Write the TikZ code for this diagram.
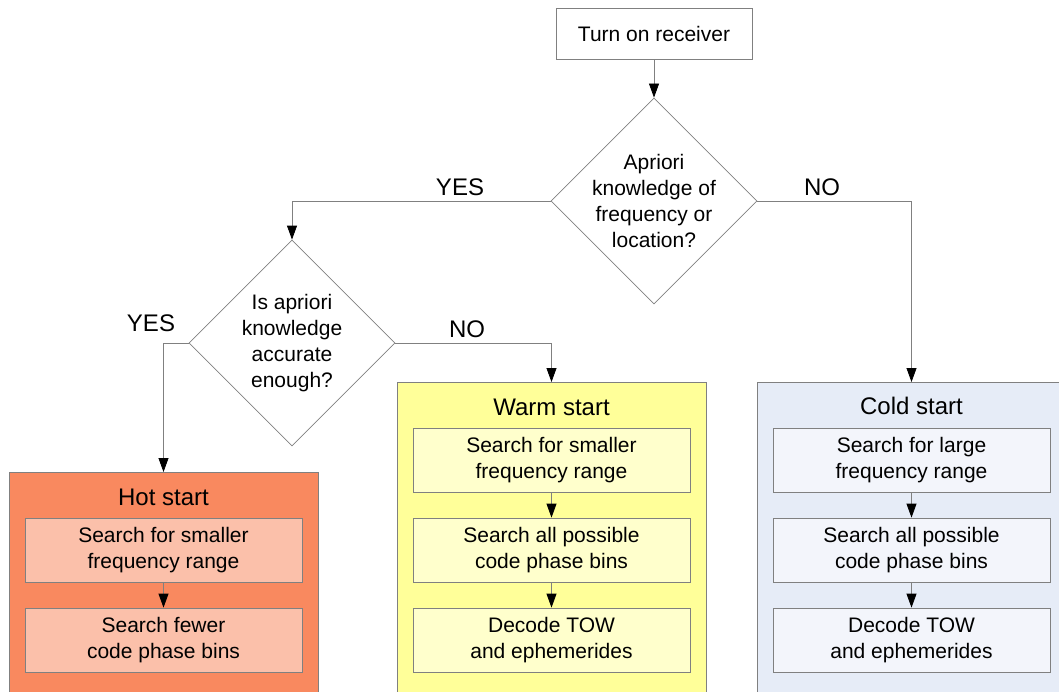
\documentclass[tikz,border=0pt]{standalone}
\usepackage{fontspec}
\setmainfont{Liberation Sans}
\usetikzlibrary{shapes.geometric,arrows.meta}

\definecolor{linegray}{RGB}{128,128,128}
\definecolor{hotout}{RGB}{249,137,95}
\definecolor{hotin}{RGB}{251,192,170}
\definecolor{warmout}{RGB}{255,255,153}
\definecolor{warmin}{RGB}{255,255,204}
\definecolor{coldout}{RGB}{230,236,247}
\definecolor{coldin}{RGB}{243,245,251}

\begin{document}
\begin{tikzpicture}[x=1pt, y=-1pt,
    every node/.append style={font=\fontsize{21}{26}\selectfont, align=center},
    box/.style={draw=linegray, line width=0.8pt, minimum width=277pt, minimum height=64pt, inner sep=0pt},
    group/.style={draw=linegray, line width=0.8pt, minimum width=309pt, anchor=north, inner sep=0pt},
    decision/.style={draw=linegray, line width=0.8pt, diamond, minimum width=206pt, minimum height=206pt, inner sep=0pt},
    title/.style={font=\fontsize{24}{28}\selectfont},
    flow/.style={draw=linegray, line width=0.8pt, -{Triangle[length=14pt, width=10pt, color=black]}}
]

    \def\colh{163.5}        % Column of the hot start
    \def\colw{551.5}        % Column of the warm start
    \def\colc{911.5}        % Column of the cold start (cut at the right edge)
    \def\rowa{460}
    \def\rowb{550}
    \def\rowc{640}

    \useasboundingbox (0,0) rectangle (1059,691);
    \clip (0,0) rectangle (1059,691);

    % Outer boxes of the three start modes, running past the bottom edge
    \node[group, fill=hotout, minimum height=240pt] (hot) at (\colh,472) {};
    \node[group, fill=warmout, minimum height=330pt] (warm) at (\colw,382) {};
    \node[group, fill=coldout, minimum height=330pt] (cold) at (\colc,382) {};

    \node[title] (hottitle) at (\colh,497) {Hot start};
    \node[title] (warmtitle) at (\colw,407) {Warm start};
    \node[title] (coldtitle) at (\colc,406) {Cold start};

    % Steps inside each box
    \node[box, fill=hotin] (hot1) at (\colh,\rowb) {Search for smaller\\frequency range};
    \node[box, fill=hotin] (hot2) at (\colh,\rowc) {Search fewer\\code phase bins};

    \node[box, fill=warmin] (warm1) at (\colw,\rowa) {Search for smaller\\frequency range};
    \node[box, fill=warmin] (warm2) at (\colw,\rowb) {Search all possible\\code phase bins};
    \node[box, fill=warmin] (warm3) at (\colw,\rowc) {Decode TOW\\and ephemerides};

    \node[box, fill=coldin] (cold1) at (\colc,\rowa) {Search for large\\frequency range};
    \node[box, fill=coldin] (cold2) at (\colc,\rowb) {Search all possible\\code phase bins};
    \node[box, fill=coldin] (cold3) at (\colc,\rowc) {Decode TOW\\and ephemerides};

    % Start and the two questions
    \node[draw=linegray, line width=0.8pt, fill=white, minimum width=196pt, minimum height=51pt] (start) at (654,33.5) {Turn on receiver};
    \node[decision] (known) at (654,201) {};
    \node (knowntext) at (known) {Apriori\\knowledge of\\frequency or\\location?};
    \node[decision] (accurate) at (292,343) {};
    \node (accuratetext) at (accurate) {Is apriori\\knowledge\\accurate\\enough?};

    \node[title] (yesknown) at (460,187) {YES};
    \node[title] (noknown) at (822,187) {NO};
    \node[title] (yesaccurate) at (151,323) {YES};
    \node[title] (noaccurate) at (467,329) {NO};

    \draw[flow] (start) -- (known);
    \draw[flow] (known.west) -| (accurate.north);
    \draw[flow] (known.east) -| (cold.north);
    \draw[flow] (accurate.west) -| (hot.north);
    \draw[flow] (accurate.east) -| (warm.north);

    \draw[flow] (hot1) -- (hot2);
    \draw[flow] (warm1) -- (warm2);
    \draw[flow] (warm2) -- (warm3);
    \draw[flow] (cold1) -- (cold2);
    \draw[flow] (cold2) -- (cold3);

\end{tikzpicture}
\end{document}
